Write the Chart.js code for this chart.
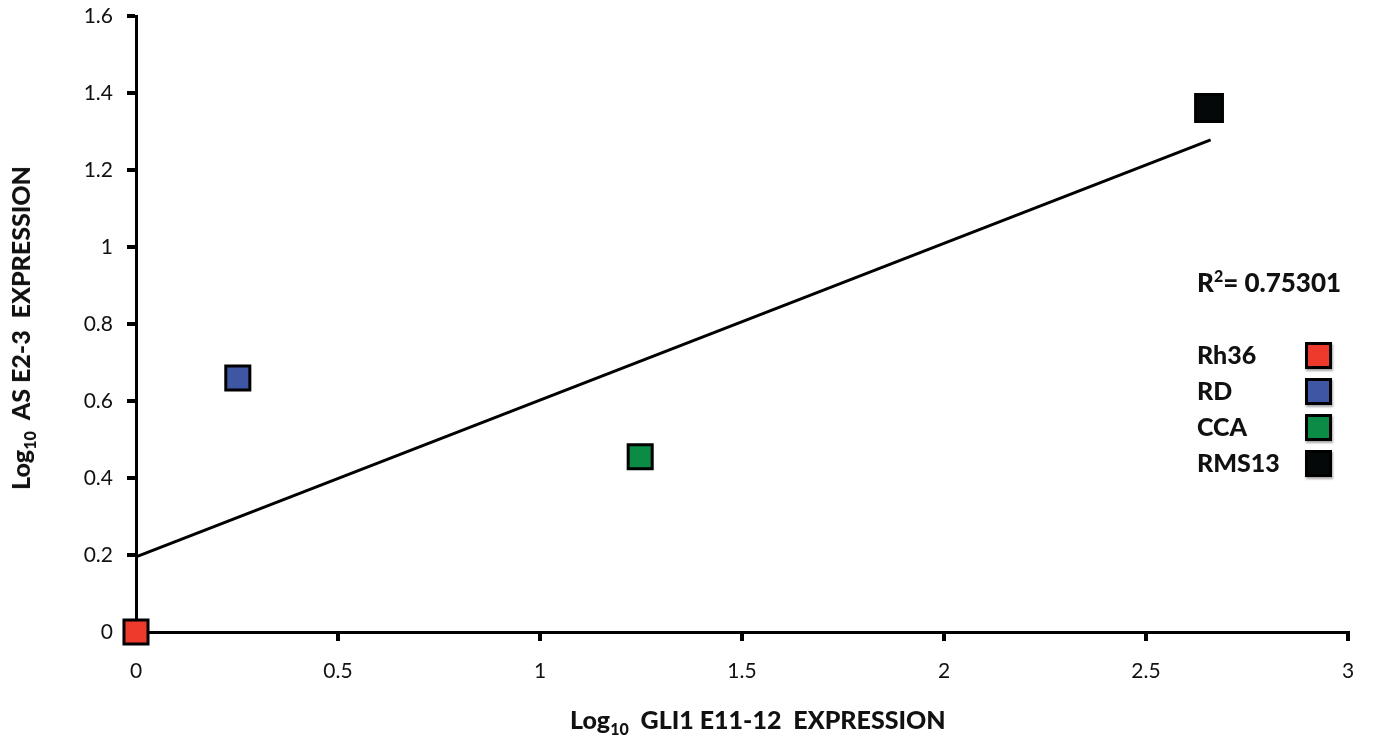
<!DOCTYPE html>
<html>
<head>
<meta charset="utf-8">
<script src="https://cdn.jsdelivr.net/npm/chart.js@4"></script>
<style>
  body { margin: 0; background: #fff; }
  #wrap { position: relative; width: 1373px; height: 750px; font-family: Lato, "Open Sans", sans-serif; color: #111; }
  .ttl { position: absolute; font-weight: 900; font-size: 25px; white-space: pre; }
  .ttl sub { font-size: 16px; }
  #xtitle { left: 570px; top: 704px; }
  #ytitle { left: 22px; top: 328px; transform: translate(-50%, -50%) rotate(-90deg); }
  #r2 { left: 1197px; top: 266px; font-size: 26px; }
  #r2 sup { font-size: 16px; }
  #legend { position: absolute; left: 1197px; top: 338px; }
  .item { position: relative; height: 36px; width: 135px; font-weight: 900; font-size: 25px; line-height: 32px; }
  .box { position: absolute; left: 108px; top: 4px; width: 21px; height: 21px; border: 3px solid #000; box-shadow: 1px 2px 2px rgba(0,0,0,0.35); }
</style>
</head>
<body>
<div id="wrap">
  <canvas id="scatter-chart" width="1373" height="750"></canvas>
  <div class="ttl" id="xtitle">Log<sub>10</sub>  GLI1 E11-12  EXPRESSION</div>
  <div class="ttl" id="ytitle">Log<sub>10</sub>  AS E2-3  EXPRESSION</div>
  <div class="ttl" id="r2">R<sup>2</sup>= 0.75301</div>
  <div id="legend"></div>
</div>
<script>
// cell lines and their log10 expression values
const cellLines = ["Rh36", "RD", "CCA", "RMS13"];
const gliValues = [0, 0.252, 1.248, 2.656];
const asValues = [0, 0.66, 0.455, 1.361];
const pointColors = ["#ee3a2c", "#3f56a5", "#0b8b45", "#050808"];

// trend line end points
const trendX = [0, 2.66];
const trendY = [0.195, 1.278];

const legendEl = document.getElementById("legend");
cellLines.forEach((name, i) => {
  const item = document.createElement("div");
  item.className = "item";
  item.textContent = name;
  const box = document.createElement("span");
  box.className = "box";
  box.style.background = pointColors[i];
  item.appendChild(box);
  legendEl.appendChild(item);
});

const datasets = cellLines.map((name, i) => ({
  label: name,
  data: [{ x: gliValues[i], y: asValues[i] }],
  backgroundColor: pointColors[i],
  borderColor: "#000",
  borderWidth: 3,
  pointStyle: "rect",
  pointRadius: i === 3 ? 19 : 17,
  pointHoverRadius: i === 3 ? 19 : 17,
  clip: false,
  order: 1,
}));

datasets.push({
  label: "Trend",
  data: trendX.map((x, i) => ({ x: x, y: trendY[i] })),
  showLine: true,
  borderColor: "#000",
  borderWidth: 3,
  pointRadius: 0,
  clip: false,
  order: 2,
});

const plainNum = (v) => String(Math.round(v * 10) / 10);

const ctx = document.getElementById("scatter-chart").getContext("2d");
new Chart(ctx, {
  type: "scatter",
  data: { datasets: datasets },
  options: {
    responsive: false,
    animation: false,
    layout: { autoPadding: false, padding: { top: 16, right: 25, left: 0, bottom: 0 } },
    plugins: { legend: { display: false }, tooltip: { enabled: false } },
    scales: {
      x: {
        type: "linear",
        min: 0,
        max: 3,
        afterFit: (scale) => {
          scale.height = 118;
          scale.paddingLeft = 0;
          scale.paddingRight = 0;
        },
        border: { color: "#000", width: 3 },
        grid: { drawOnChartArea: false, color: "#000", lineWidth: 4, tickLength: 9 },
        ticks: { stepSize: 0.5, color: "#111", padding: 18, callback: plainNum, font: { family: "Lato", size: 21 } },
      },
      y: {
        type: "linear",
        min: 0,
        max: 1.6,
        afterFit: (scale) => {
          scale.width = 136;
          scale.paddingTop = 0;
          scale.paddingBottom = 0;
        },
        border: { color: "#000", width: 3 },
        grid: { drawOnChartArea: false, color: "#000", lineWidth: 4, tickLength: 9 },
        ticks: { stepSize: 0.2, color: "#111", padding: 14, callback: plainNum, font: { family: "Lato", size: 21 } },
      },
    },
  },
});
</script>
</body>
</html>
